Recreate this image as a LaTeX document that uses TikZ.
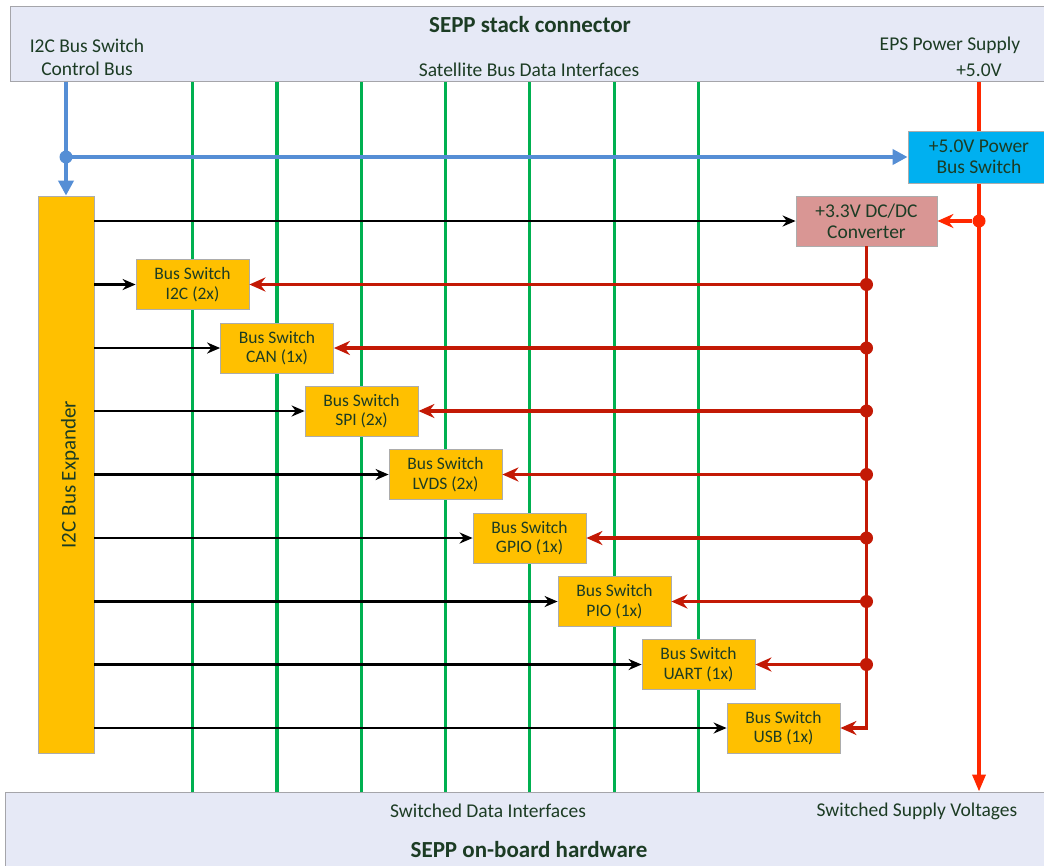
\documentclass[tikz,border=0pt]{standalone}
\usepackage{fontspec}
\setmainfont{Carlito}
\usepackage{tikz}
\usetikzlibrary{arrows.meta, positioning, calc}
\definecolor{hdrfill}{RGB}{230,233,246}
\definecolor{hdrline}{RGB}{165,165,170}
\definecolor{txtgreen}{RGB}{28,60,36}
\definecolor{busgreen}{RGB}{0,176,80}
\definecolor{busblue}{RGB}{85,142,213}
\definecolor{pwrred}{RGB}{255,40,0}
\definecolor{feedred}{RGB}{195,25,5}
\definecolor{swamber}{RGB}{255,192,0}
\definecolor{convpink}{RGB}{217,150,148}
\definecolor{pwrcyan}{RGB}{0,176,240}
\pgfdeclarelayer{background}
\pgfsetlayers{background,main}
\tikzset{
  panel/.style={rectangle, draw=hdrline, fill=hdrfill, line width=1pt, inner sep=0pt},
  title/.style={font=\fontsize{23}{27}\selectfont\bfseries, text=txtgreen, inner sep=0pt},
  lbl/.style={font=\fontsize{19.5}{23}\selectfont, text=txtgreen, inner sep=0pt},
  swbox/.style={rectangle, draw=gray!65, fill=swamber, minimum width=113pt,
    minimum height=50pt, inner sep=0pt, align=center, text=txtgreen,
    font=\fontsize{17.5}{19.5}\selectfont, line width=0.8pt},
  pwrbox/.style={rectangle, draw=gray!65, line width=0.8pt, inner sep=0pt,
    align=center, text=txtgreen, font=\fontsize{19.5}{21}\selectfont},
  ctrlarrow/.style={-{Stealth[length=13pt, width=11pt]}, line width=2.4pt, color=black},
  feedarrow/.style={-{Stealth[length=16pt, width=14pt]}, line width=3.5pt, color=feedred},
  bluearrow/.style={-{Triangle[length=15pt, width=15pt]}, line width=4.5pt, color=busblue},
  redarrow/.style={-{Triangle[length=17pt, width=13pt]}, line width=3.5pt, color=pwrred},
  databus/.style={line width=3.6pt, color=busgreen},
  dot/.style={circle, fill, inner sep=0pt, minimum size=13pt}
}
\begin{document}
\begin{tikzpicture}[x=1pt, y=-1pt]
  \useasboundingbox (0,0) rectangle (1044,865);
  \clip (0,0) rectangle (1044,865);

  % Stack connector
  \node[panel, minimum width=1050pt, minimum height=75pt] (hdr) at (535,43.5) {};
  \node[title] (hdrtitle) at (530,25) {SEPP stack connector};
  \node[lbl, align=center] (ctrllbl) at (87,57) {I2C Bus Switch\\Control Bus};
  \node[lbl] (datalbl) at (529,70) {Satellite Bus Data Interfaces};
  \node[lbl] (epslbl) at (950,45) {EPS Power Supply};
  \node[lbl] (vlbl) at (979,70) {+5.0V};

  % On-board hardware
  \node[panel, minimum width=1055pt, minimum height=88pt] (bot) at (532.5,836) {};
  \node[lbl] (swdatalbl) at (488,811) {Switched Data Interfaces};
  \node[lbl] (swsuplbl) at (917,811) {Switched Supply Voltages};
  \node[title] (bottitle) at (529,850) {SEPP on-board hardware};

  % Expander and supplies
  \node[swbox, minimum width=56pt, minimum height=557pt,
    label={[rotate=90, lbl, font=\fontsize{21}{24}\selectfont, yshift=-4pt]center:I2C Bus Expander}] (exp) at (66,474.5) {};
  \node[pwrbox, fill=pwrcyan, minimum width=142pt, minimum height=52pt] (pwr) at (979,157) {+5.0V Power\\Bus Switch};
  \node[pwrbox, fill=convpink, minimum width=141pt, minimum height=50pt] (conv) at (866.5,221) {+3.3V DC/DC\\Converter};

  % Bus switches
  \node[swbox] (sw1) at (192.5,284.5) {Bus Switch\\I2C (2x)};
  \node[swbox] (sw2) at (277,348) {Bus Switch\\CAN (1x)};
  \node[swbox] (sw3) at (361.5,411) {Bus Switch\\SPI (2x)};
  \node[swbox] (sw4) at (445.5,474.5) {Bus Switch\\LVDS (2x)};
  \node[swbox] (sw5) at (529.5,538) {Bus Switch\\GPIO (1x)};
  \node[swbox] (sw6) at (614.5,601.5) {Bus Switch\\PIO (1x)};
  \node[swbox] (sw7) at (698.5,664.5) {Bus Switch\\UART (1x)};
  \node[swbox] (sw8) at (783.5,728) {Bus Switch\\USB (1x)};

  % Data lines and supply rail behind the boxes
  \begin{pgfonlayer}{background}
    \draw[databus] (sw1 |- hdr.south) -- (sw1 |- bot.north);
    \draw[databus] (sw2 |- hdr.south) -- (sw2 |- bot.north);
    \draw[databus] (sw3 |- hdr.south) -- (sw3 |- bot.north);
    \draw[databus] (sw4 |- hdr.south) -- (sw4 |- bot.north);
    \draw[databus] (sw5 |- hdr.south) -- (sw5 |- bot.north);
    \draw[databus] (sw6 |- hdr.south) -- (sw6 |- bot.north);
    \draw[databus] (sw7 |- hdr.south) -- (sw7 |- bot.north);
    \draw[redarrow] (pwr.center |- hdr.south) -- (pwr.center |- bot.north);
  \end{pgfonlayer}

  % Control bus
  \draw[bluearrow] (exp.north |- hdr.south) -- (exp.north);
  \draw[bluearrow] (exp.north |- pwr.west) -- (pwr.west);
  \node[dot, color=busblue] (bdot) at (exp.north |- pwr.west) {};

  % Supply to converter
  \node[dot, color=pwrred] (rdot) at (pwr.center |- conv.east) {};
  \draw[-{Stealth[length=16pt, width=14pt]}, line width=3.5pt, color=pwrred] (rdot) -- (conv.east);
  \draw[ctrlarrow] (exp.east |- conv.west) -- (conv.west);

  % Enable lines
  \draw[ctrlarrow] (exp.east |- sw1.west) -- (sw1.west);
  \draw[ctrlarrow] (exp.east |- sw2.west) -- (sw2.west);
  \draw[ctrlarrow] (exp.east |- sw3.west) -- (sw3.west);
  \draw[ctrlarrow] (exp.east |- sw4.west) -- (sw4.west);
  \draw[ctrlarrow] (exp.east |- sw5.west) -- (sw5.west);
  \draw[ctrlarrow] (exp.east |- sw6.west) -- (sw6.west);
  \draw[ctrlarrow] (exp.east |- sw7.west) -- (sw7.west);
  \draw[ctrlarrow] (exp.east |- sw8.west) -- (sw8.west);

  % 3.3V feed
  \draw[feedarrow] (conv.south) |- (sw8.east);
  \draw[feedarrow] (conv.south |- sw1.east) -- (sw1.east);
  \draw[feedarrow] (conv.south |- sw2.east) -- (sw2.east);
  \draw[feedarrow] (conv.south |- sw3.east) -- (sw3.east);
  \draw[feedarrow] (conv.south |- sw4.east) -- (sw4.east);
  \draw[feedarrow] (conv.south |- sw5.east) -- (sw5.east);
  \draw[feedarrow] (conv.south |- sw6.east) -- (sw6.east);
  \draw[feedarrow] (conv.south |- sw7.east) -- (sw7.east);
  \node[dot, color=feedred] (fd1) at (conv.south |- sw1.east) {};
  \node[dot, color=feedred] (fd2) at (conv.south |- sw2.east) {};
  \node[dot, color=feedred] (fd3) at (conv.south |- sw3.east) {};
  \node[dot, color=feedred] (fd4) at (conv.south |- sw4.east) {};
  \node[dot, color=feedred] (fd5) at (conv.south |- sw5.east) {};
  \node[dot, color=feedred] (fd6) at (conv.south |- sw6.east) {};
  \node[dot, color=feedred] (fd7) at (conv.south |- sw7.east) {};
\end{tikzpicture}
\end{document}
